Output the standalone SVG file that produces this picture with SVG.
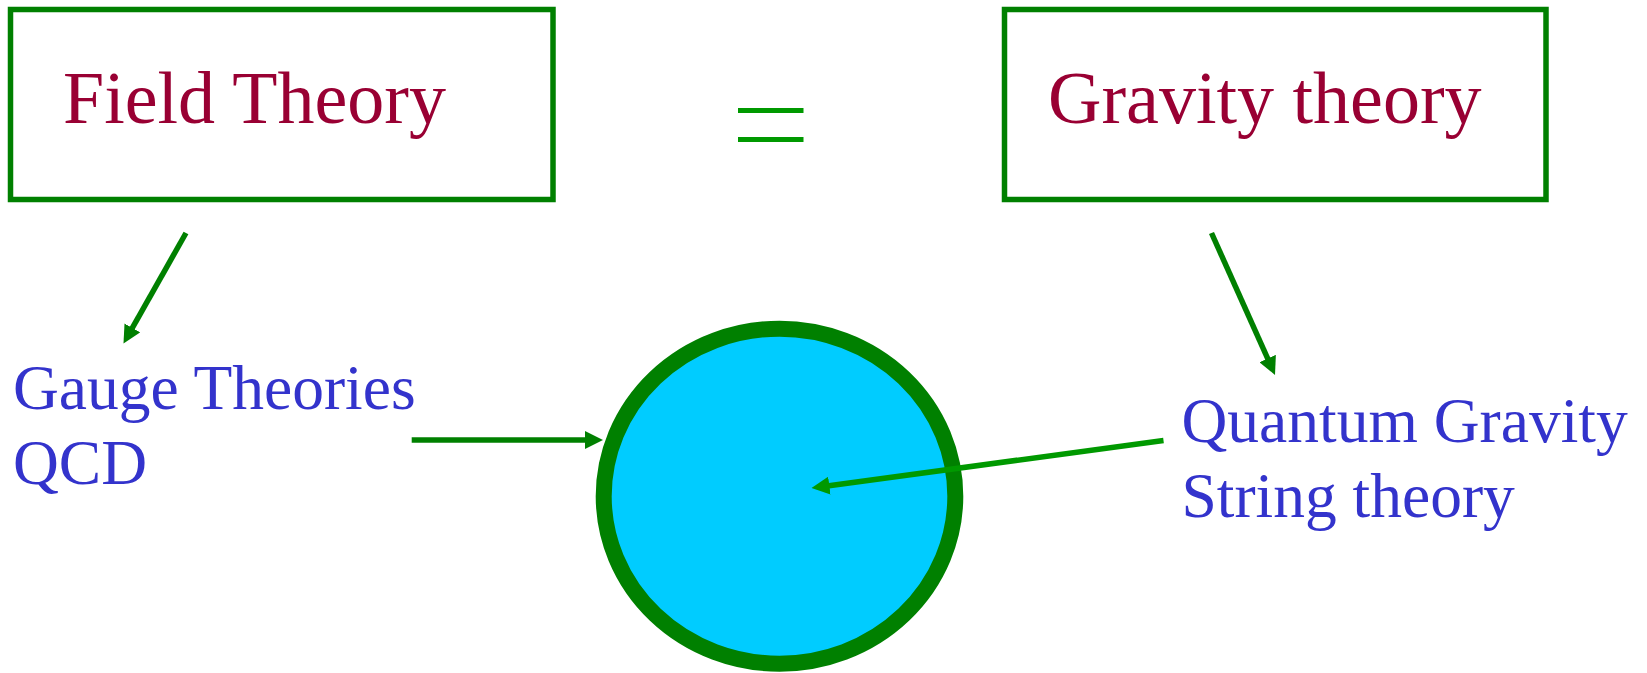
<svg xmlns="http://www.w3.org/2000/svg" width="1647" height="673" viewBox="0 0 1647 673">
<style>
.box{fill:#ffffff;stroke:#008000;stroke-width:5.5}
.title{font-family:"Liberation Serif","Times New Roman",serif;font-size:74px;fill:#990033}
.label{font-family:"Liberation Serif","Times New Roman",serif;font-size:63.5px;fill:#3333CC}
.conn{fill:none;stroke-width:5.5}
.dark{stroke:#008000}
.light{stroke:#009900}
</style>
<defs>
<marker id="ahDark" markerUnits="userSpaceOnUse" markerWidth="18" markerHeight="18" refX="6" refY="9" orient="auto">
<path d="M0,0 L18,9 L0,18 Z" fill="#008000"/>
</marker>
<marker id="ahLight" markerUnits="userSpaceOnUse" markerWidth="18" markerHeight="18" refX="6" refY="9" orient="auto">
<path d="M0,0 L18,9 L0,18 Z" fill="#009900"/>
</marker>
</defs>
<rect width="1647" height="673" fill="#ffffff"/>
<g id="field-theory">
<rect class="box" x="10.5" y="9.5" width="542.5" height="190"/>
<text class="title" x="63" y="123">Field Theory</text>
</g>
<g id="gravity-theory">
<rect class="box" x="1004.5" y="9.5" width="541.5" height="190"/>
<text class="title" x="1048" y="123">Gravity theory</text>
</g>
<g id="equals">
<line x1="738" y1="110.5" x2="803.5" y2="110.5" stroke="#009900" stroke-width="5"/>
<line x1="738" y1="139.5" x2="803.5" y2="139.5" stroke="#009900" stroke-width="5"/>
</g>
<g id="gauge-theories">
<text class="label" x="13" y="408.5">Gauge Theories</text>
<text class="label" x="13" y="483.5">QCD</text>
</g>
<g id="quantum-gravity">
<text class="label" x="1181.5" y="441.5">Quantum Gravity</text>
<text class="label" x="1181.5" y="516.5">String theory</text>
</g>
<g id="circle">
<ellipse cx="779.5" cy="496.2" rx="175.8" ry="167.5" fill="#00CCFF" stroke="#008000" stroke-width="16"/>
</g>
<g id="connectors">
<line class="conn dark" x1="186" y1="233" x2="129.4" y2="333.1" marker-end="url(#ahDark)"/>
<line class="conn dark" x1="1211.5" y1="233" x2="1270.1" y2="364" marker-end="url(#ahDark)"/>
<line class="conn dark" x1="411.7" y1="440" x2="591" y2="440" marker-end="url(#ahDark)"/>
<line class="conn light" x1="1163.5" y1="440.5" x2="823.4" y2="486.4" marker-end="url(#ahLight)"/>
</g>
</svg>
